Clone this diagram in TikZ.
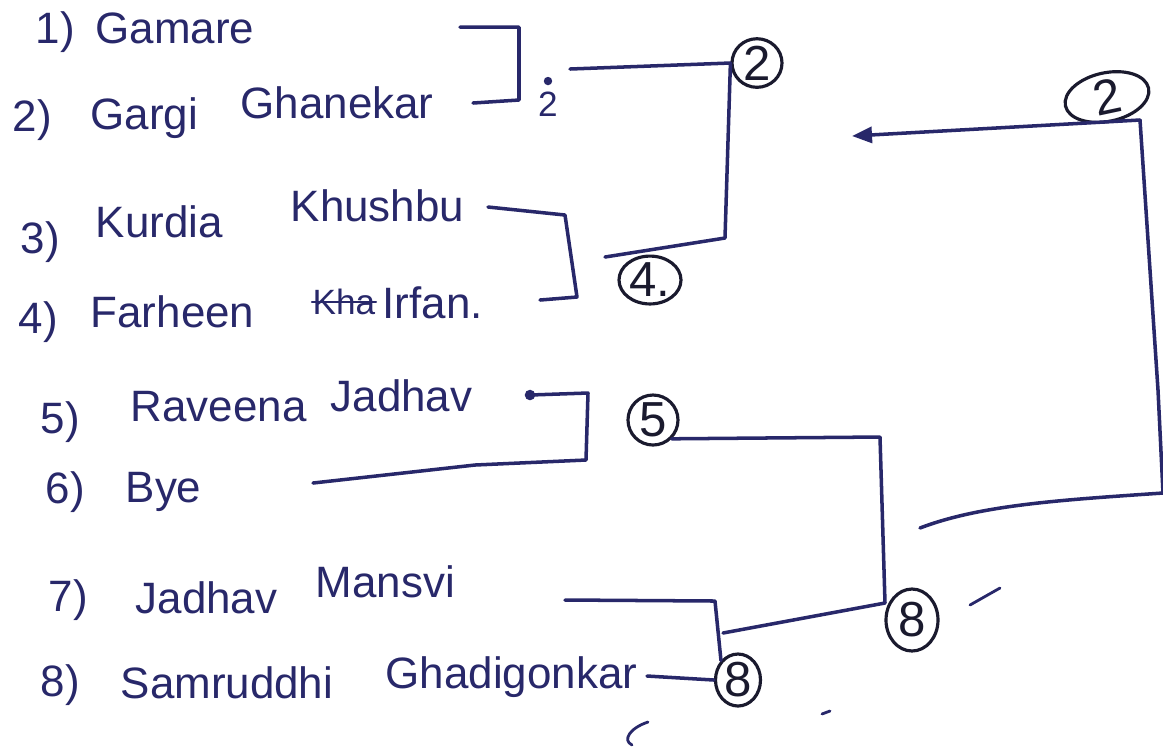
\documentclass[tikz,border=0pt]{standalone}
\usepackage{fontspec}
\setmainfont{Liberation Sans}
\usepackage{tikz}
\usetikzlibrary{shapes,arrows,positioning,calc,arrows.meta}
\definecolor{ink}{HTML}{28286A}
\definecolor{pen}{HTML}{1A1A2E}

\begin{document}
\begin{tikzpicture}[
    line/.style={draw=ink,line width=1pt,line join=round,line cap=round},
    entry/.style={anchor=west,inner sep=0pt,text=ink,font=\fontsize{12.5}{15}\selectfont},
    seed/.style={ellipse,draw=pen,line width=0.9pt,inner sep=0pt,text=pen,font=\fontsize{14}{16}\selectfont}
]
    \useasboundingbox (0,0) rectangle (11.63,-7.52);

    % Entries
    \node[entry] (k1) at (0.35,-0.32) {1)};
    \node[entry] (n1) at (0.95,-0.28) {Gamare};
    \node[entry] (k2) at (0.12,-1.20) {2)};
    \node[entry] (n2a) at (0.90,-1.18) {Gargi};
    \node[entry] (n2b) at (2.40,-1.03) {Ghanekar};
    \node[entry] (k3) at (0.20,-2.42) {3)};
    \node[entry] (n3a) at (0.95,-2.22) {Kurdia};
    \node[entry] (n3b) at (2.90,-2.06) {Khushbu};
    \node[entry] (k4) at (0.18,-3.22) {4)};
    \node[entry] (n4a) at (0.90,-3.12) {Farheen};
    \node[entry,font=\fontsize{10}{12}\selectfont] (kha) at (3.12,-3.02) {Kha};
    \draw[line,line width=0.7pt] (kha.west) -- (kha.east);
    \node[entry] (n4b) at (3.82,-3.03) {Irfan.};
    \node[entry] (k5) at (0.40,-4.22) {5)};
    \node[entry] (n5a) at (1.30,-4.07) {Raveena};
    \node[entry] (n5b) at (3.30,-3.96) {Jadhav};
    \node[entry] (k6) at (0.45,-4.92) {6)};
    \node[entry] (n6) at (1.25,-4.92) {Bye};
    \node[entry] (k7) at (0.48,-6.00) {7)};
    \node[entry] (n7a) at (1.35,-5.98) {Jadhav};
    \node[entry] (n7b) at (3.15,-5.82) {Mansvi};
    \node[entry] (k8) at (0.40,-6.85) {8)};
    \node[entry] (n8a) at (1.20,-6.83) {Samruddhi};
    \node[entry] (n8b) at (3.85,-6.77) {Ghadigonkar};

    % Winners
    \node[text=ink,inner sep=0pt,font=\fontsize{10}{12}\selectfont] (w12) at (5.48,-1.04) {2};
    \fill[ink] ($(w12.north)+(0,0.1)$) circle (1.2pt);
    \node[seed,minimum width=0.50cm,minimum height=0.48cm] (s2) at (7.57,-0.63) {2};
    \node[seed,minimum width=0.62cm,minimum height=0.42cm] (s4) at (6.50,-2.80) {4.};
    \node[seed,minimum width=0.50cm,minimum height=0.50cm] (s5) at (6.53,-4.20) {5};
    \node[seed,minimum width=0.52cm,minimum height=0.62cm] (s8a) at (9.12,-6.20) {8};
    \node[seed,minimum width=0.45cm,minimum height=0.52cm] (s8b) at (7.38,-6.80) {8};
    \node[seed,minimum width=0.85cm,minimum height=0.42cm,rotate=12] (s2f) at (11.07,-0.97) {2};

    % Round 1 brackets
    \coordinate (a1) at (4.60,-0.27);
    \coordinate (a2) at (5.19,-0.27);
    \coordinate (a3) at (5.19,-1.00);
    \coordinate (a4) at (4.73,-1.03);
    \draw[line] (a1) -- (a2) -- (a3) -- (a4);

    \coordinate (b1) at (4.88,-2.07);
    \coordinate (b2) at (5.65,-2.15);
    \coordinate (b3) at (5.77,-2.97);
    \coordinate (b4) at (5.40,-3.00);
    \draw[line] (b1) -- (b2) -- (b3) -- (b4);

    \coordinate (c1) at (5.30,-3.95);
    \coordinate (c2) at (5.88,-3.93);
    \coordinate (c3) at (5.86,-4.60);
    \coordinate (c4) at (4.75,-4.65);
    \coordinate (c5) at (3.13,-4.83);
    \fill[ink] (c1) circle (1.5pt);
    \draw[line] (c1) -- (c2) -- (c3) -- (c4) -- (c5);

    \coordinate (d1) at (5.65,-6.00);
    \coordinate (d2) at (7.15,-6.01);
    \coordinate (d3) at (6.47,-6.76);
    \draw[line] (d1) -- (d2) -- (s8b.north west);
    \draw[line] (d3) -- (s8b.west);

    % Semi finals
    \coordinate (e1) at (5.70,-0.69);
    \coordinate (e2) at (7.25,-2.38);
    \coordinate (e3) at (6.05,-2.57);
    \draw[line] (e1) -- (s2.west);
    \draw[line] (s2.west) -- (e2) -- (e3);

    \coordinate (f1) at (8.80,-4.37);
    \coordinate (f2) at (8.85,-6.03);
    \coordinate (f3) at (7.23,-6.33);
    \draw[line] (s5.south east) -- (f1) -- (f2) -- (f3);

    % Final
    \coordinate (g1) at (9.20,-5.28);
    \coordinate (g2) at (11.63,-4.93);
    \coordinate (g3) at (11.58,-3.90);
    \coordinate (g4) at (11.40,-1.20);
    \coordinate (g5) at (8.52,-1.36);
    \draw[line] (g1) .. controls (9.80,-5.05) and (10.60,-5.00) .. (g2);
    \draw[line] (g2) -- (g3) -- (g4);
    \draw[line,-{Triangle[length=2mm,width=1.6mm]}] (g4) -- (g5);

    % stray strokes
    \draw[line,line width=0.8pt] (9.70,-6.05) -- (10.00,-5.88);
    \draw[line,line width=0.8pt] (8.22,-7.14) -- (8.30,-7.11);
    \draw[line,line width=0.8pt] (6.48,-7.22) .. controls (6.30,-7.28) and (6.22,-7.40) .. (6.32,-7.45);
\end{tikzpicture}
\end{document}
